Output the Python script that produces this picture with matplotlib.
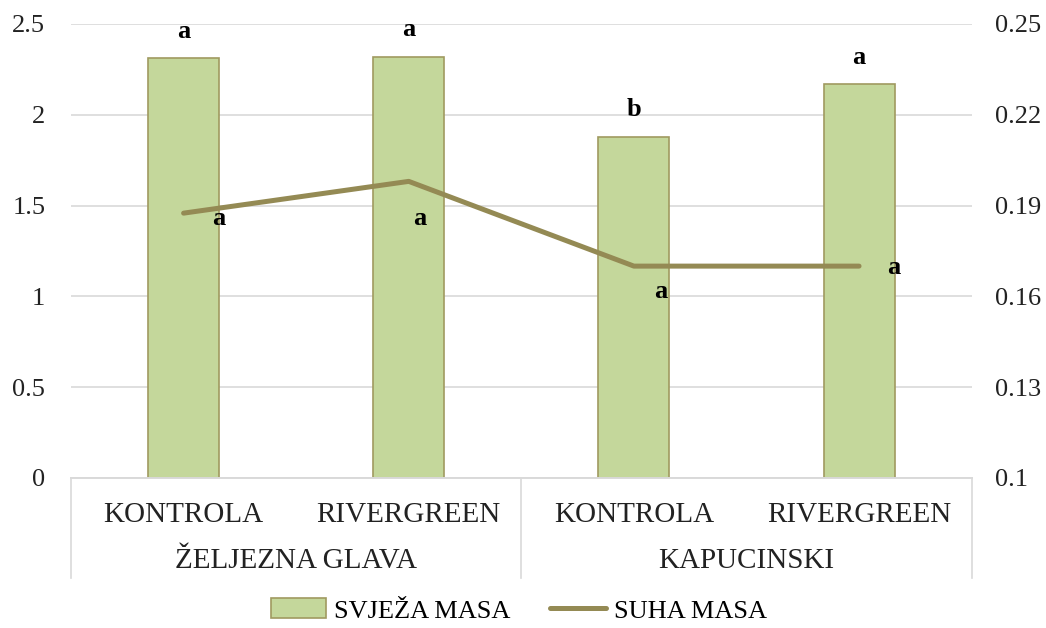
import matplotlib.pyplot as plt

plt.rcParams['font.family'] = ['Liberation Serif', 'DejaVu Serif']

# data
varieties = ['ŽELJEZNA GLAVA', 'KAPUCINSKI']
treatments = ['KONTROLA', 'RIVERGREEN', 'KONTROLA', 'RIVERGREEN']
svjeza_masa = [2.31, 2.32, 1.88, 2.17]
suha_masa = [0.1875, 0.198, 0.170, 0.170]
bar_letters = ['a', 'a', 'b', 'a']
line_letters = ['a', 'a', 'a', 'a']

bar_color = '#c4d79b'
edge_color = '#a09a60'
line_color = '#948a54'
grid_color = '#d9d9d9'

fig = plt.figure(figsize=(10.46, 6.28), dpi=100)
ax = fig.add_axes([0.0679, 0.2389, 0.8610, 0.7229])
ax2 = ax.twinx()

x = list(range(len(treatments)))
ax.bar(x, svjeza_masa, width=0.315, color=bar_color, edgecolor=edge_color,
       linewidth=1.2, zorder=2, label='SVJEŽA MASA')
ax2.plot(x, suha_masa, color=line_color, linewidth=3.6,
         solid_capstyle='round', solid_joinstyle='round', label='SUHA MASA')

ax.set_xlim(-0.5, 3.5)
ax.set_ylim(0, 2.5)
ax.set_yticks([0, 0.5, 1, 1.5, 2, 2.5])
ax.set_yticklabels(['0', '0.5', '1', '1.5', '2', '2.5'])
ax2.set_ylim(0.1, 0.25)
ax2.set_yticks([0.1, 0.13, 0.16, 0.19, 0.22, 0.25])
ax2.set_yticklabels(['0.1', '0.13', '0.16', '0.19', '0.22', '0.25'])

ax.yaxis.grid(True, color=grid_color, linewidth=1.2, zorder=0)
ax.set_axisbelow(True)
for a in (ax, ax2):
    for s in ('top', 'left', 'right'):
        a.spines[s].set_visible(False)
    a.spines['bottom'].set_color(grid_color)
    a.spines['bottom'].set_linewidth(1.2)
    a.tick_params(axis='y', length=0, labelsize=19, colors='#222222')
ax.tick_params(axis='y', pad=18.5)
ax2.tick_params(axis='y', pad=16.5)

ax.set_xticks(x)
ax.set_xticklabels(treatments, fontsize=21, color='#222222')
ax.tick_params(axis='x', length=0, pad=17)

# group labels and separators under the axis
trans = ax.get_xaxis_transform()
for i, name in enumerate(varieties):
    ax.text(2 * i + 0.5, -0.183, name, transform=trans, ha='center', va='center',
            fontsize=21, color='#222222')
for xs in (-0.5, 1.5, 3.5):
    ax.plot([xs, xs], [0, -0.22], transform=trans, color=grid_color,
            linewidth=1.2, clip_on=False)

# significance letters
for xi, v, t in zip(x, svjeza_masa, bar_letters):
    ax.annotate(t, (xi, v), xytext=(0, 11), textcoords='offset points',
                ha='center', va='bottom', fontsize=19, fontweight='bold')
line_offsets = [(25, -4), (8, -27), (19, -18), (25, -1)]
for xi, v, t, off in zip(x, suha_masa, line_letters, line_offsets):
    ax2.annotate(t, (xi, v), xytext=off, textcoords='offset points',
                 ha='center', va='center', fontsize=19, fontweight='bold')

h1, l1 = ax.get_legend_handles_labels()
h2, l2 = ax2.get_legend_handles_labels()
fig.legend(h1 + h2, l1 + l2, loc='center', bbox_to_anchor=(0.496, 0.028),
           ncol=2, frameon=False, fontsize=19, handlelength=2.1,
           handleheight=0.8, columnspacing=1.5, handletextpad=0.3)

fig.savefig('out.png', dpi=100)
